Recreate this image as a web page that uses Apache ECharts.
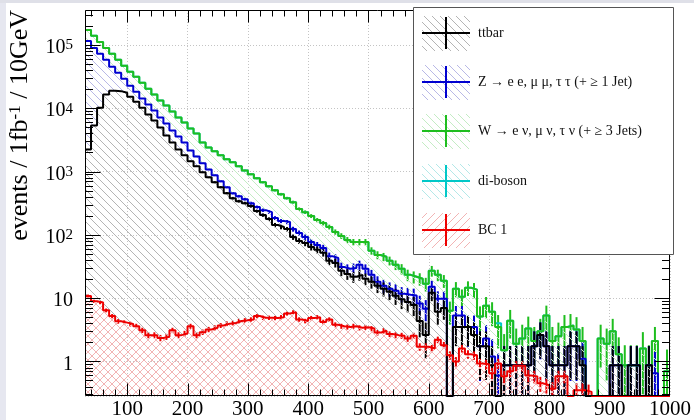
<!DOCTYPE html>
<html><head><meta charset="utf-8">
<script src="https://cdn.jsdelivr.net/npm/echarts@6/dist/echarts.min.js"></script>
<style>html,body{margin:0;padding:0;background:#fff}#c{width:694px;height:420px}</style>
</head><body><div id="c"></div>
<script>
// ---------------- data ----------------
const binLow = [30,40,50,60,70,80,90,100,110,120,130,140,150,160,170,180,190,200,210,220,230,240,250,260,270,280,290,300,310,320,330,340,350,360,370,380,390,400,410,420,430,440,450,460,470,480,490,500,510,520,530,540,550,560,570,580,590,600,610,620,630,640,650,660,670,680,690,700,710,720,730,740,750,760,770,780,790,800,810,820,830,840,850,860,870,880,890,900,910,920,930,940,950,960,970,980,990];
const binWidth = 10;

// stacked totals as drawn: ttbar, ttbar+Z, ttbar+Z+W
const ttbar = [2230,5330,10200,16400,18900,18600,17600,15200,12700,10200,
 7930,6380,4950,3710,2880,2230,1800,1450,1210,971,
 811,677,565,454,379,340,316,284,237,205,
 177,143,133,123,92,80,74,64,58,52,
 39,36,27,24,21.7,23.3,20.2,18.1,15.7,14.1,
 12.6,10.9,9.6,8.7,7.8,4.35,2.61,12.2,6.1,7.0,
 0,3.48,3.48,3.48,2.61,1.74,1.74,0.87,0,0.87,
 0.87,0.87,0.87,0.87,1.74,2.61,1.74,0.87,0.87,0.87,
 1.74,1.74,0.87,0,0,0,0,0.87,0.87,0,
 0.87,0.87,0,0.87,0,0,0];
const ttbarErr = [44,68,94,119,128,127,124,115,105,94,
 83,75,66,57,50,44,40,36,32,29,
 27,24,22,20,18,17,17,16,14,13,
 12,11,11,10,9,8.3,8,7.5,7.1,6.7,
 5.8,5.6,4.8,4.6,4.3,4.5,4.2,4.0,3.7,3.5,
 3.3,3.1,2.9,2.75,2.6,1.95,1.5,3.26,2.3,2.46,
 0,1.74,1.74,1.74,1.5,1.23,1.23,0.87,0,0.87,
 0.87,0.87,0.87,0.87,1.23,1.5,1.23,0.87,0.87,0.87,
 1.23,1.23,0.87,0,0,0,0,0.87,0.87,0,
 0.87,0.87,0,0.87,0,0,0];

const zStack = [115600,89700,72200,58100,45100,36300,29200,22700,18200,14200,
 11400,9170,7120,5730,4450,3580,2880,2150,1730,1350,
 1080,872,701,565,454,408,366,316,274,245,
 228,184,165,159,123,107,92,77,69,62,
 46,43,31,29,30,33.5,29,23.3,18.1,15.7,
 14.1,13.1,11.7,11.3,11,8.2,6.8,15.1,9.8,9.8,
 0,5.3,5.3,3.5,3.5,1.74,2.3,1.2,0.6,0.87,
 0.87,0.87,0.87,0.87,1.74,2.61,1.74,0.87,0.87,0.87,
 1.74,1.74,1.1,0,0,0,0,0.87,0.87,0,
 0.87,0.87,0,0.87,0.65,0,0];
const zStackErr = [322,284,255,229,201,181,162,143,128,113,
 101,91,80,72,63,57,51,44,39,35,
 31,28,25,23,20,19,18,17,16,15,
 14,13,12,12,11,10,9,8.3,7.9,7.5,
 6.4,6.2,5.3,5.1,5.2,5.5,5.1,4.6,4.0,3.8,
 3.6,3.4,3.2,3.2,3.1,2.7,2.5,3.7,3.0,3.0,
 0,2.2,2.2,1.8,1.8,1.25,1.44,1.04,0.73,0.88,
 0.88,0.88,0.88,0.88,1.25,1.53,1.25,0.88,0.88,0.88,
 1.25,1.25,1.0,0,0,0,0,0.88,0.88,0,
 0.88,0.88,0,0.88,0.76,0,0];

const wStack = [172000,139000,111000,89700,72200,58100,46800,37600,31400,25300,
 20300,16400,13200,11000,8840,7120,5940,4780,3990,2880,
 2400,2080,1800,1560,1400,1210,1040,904,782,677,
 585,506,438,379,328,255,228,198,171,153,
 133,111,96,83,77,77,77,56,48,45,
 39,33.5,29,23.3,21.7,20.2,16.8,27,23.3,18.8,
 6.3,14.1,10.5,14.6,13.6,5.1,7.6,6.1,3.5,1.5,
 4.4,1.9,2.3,3.3,2.1,3.0,5.3,2.1,2.5,3.5,
 3.7,3.2,2.1,0,0,2.3,1.9,3.0,1.3,0.87,
 0.87,0.87,1.6,0.87,2.1,0,0.7];
const wStackErr = [415,373,333,300,269,241,216,194,177,159,
 142,128,115,105,94,84,77,69,63,54,
 49,46,42,39,37,35,32,30,28,26,
 24,22,21,19,18,16,15,14,13,12.4,
 11.5,10.5,9.8,9.1,8.8,8.8,8.8,7.5,6.9,6.7,
 6.2,5.8,5.4,4.8,4.7,4.5,4.1,5.2,4.8,4.3,
 2.5,3.8,3.2,3.8,3.7,2.3,2.8,2.5,1.9,1.2,
 2.1,1.4,1.5,1.8,1.4,1.7,2.3,1.4,1.6,1.9,
 1.9,1.8,1.4,0,0,1.5,1.4,1.7,1.1,0.93,
 0.93,0.93,1.3,0.93,1.4,0,0.84];

// di-boson contribution added on top of the stack
const diboson = [0,0,0,0,0,0,0,0,0,0, 0,0,0,0,0,0,0,0,0,0, 0,0,0,0,0,0,0,0,0,0,
 0,0,0,0,0,0,0,0,0,0, 0,0,0,0,0,0,0,0,0,0, 0,0,0,0,0,0,0,0,0,0,
 0,0,0,0,0,0,0,0,0.5,0, 0,0,0,0,0,0,0,0,0,0, 0,0,0,0,0,0,0,0,0,0, 0,0,0,0,0,0,0];

const bc1 = [10.8,8.9,8.5,6.4,5.2,4.3,4.1,3.9,3.6,3.1,
 2.6,2.6,2.35,2.45,3.1,2.6,2.75,3.6,2.6,2.9,
 3.2,3.4,3.7,3.95,4.05,4.35,4.45,4.6,5.2,4.9,
 4.9,4.85,5.0,5.7,6.0,4.6,4.35,4.85,5.0,4.2,
 4.6,3.8,3.6,3.5,3.6,3.4,3.45,3.3,2.85,3.05,
 2.7,2.6,2.55,2.3,2.55,1.7,1.7,1.6,2.2,1.8,
 1.25,1.0,1.6,1.3,1.25,0.93,0.9,0.65,0.93,0.58,
 0.7,0.85,0.85,0.6,0.58,0.45,0.42,0.37,0.58,0.58,
 0,0.35,0.35,0.33,0,0,0,0,0,0,
 0,0,0,0,0,0,0];
const bc1Err = [0.57,0.52,0.5,0.44,0.4,0.36,0.35,0.34,0.33,0.3,
 0.28,0.28,0.27,0.27,0.3,0.28,0.29,0.33,0.28,0.29,
 0.31,0.32,0.33,0.34,0.35,0.36,0.37,0.37,0.39,0.38,
 0.38,0.38,0.39,0.41,0.42,0.37,0.36,0.38,0.39,0.35,
 0.37,0.34,0.33,0.32,0.33,0.32,0.32,0.31,0.29,0.3,
 0.28,0.28,0.28,0.26,0.28,0.23,0.23,0.22,0.26,0.23,
 0.19,0.17,0.22,0.2,0.19,0.17,0.16,0.14,0.17,0.13,
 0.14,0.16,0.16,0.13,0.13,0.12,0.11,0.1,0.13,0.13,
 0,0.1,0.1,0.1,0,0,0,0,0,0,
 0,0,0,0,0,0,0];

const legendLabels = ['ttbar', 'Z \u2192 e e, \u03bc \u03bc, \u03c4 \u03c4 (+ \u2265 1 Jet)', 'W \u2192 e \u03bd, \u03bc \u03bd, \u03c4 \u03bd (+ \u2265 3 Jets)', 'di-boson', 'BC 1'];
const yTitle = 'events / 1fb{s|-1} / 10GeV';
const xLabelValues = [100,200,300,400,500,600,700,800,900,1000];
const yLabelValues = [1,10,100,1000,10000,100000];
const xMajorTicks = [100,200,300,400,500,600,700,800,900];
const xMinorTicks = [40,60,80,120,140,160,180,220,240,260,280,320,340,360,380,420,440,460,480,520,540,560,580,620,640,660,680,720,740,760,780,820,840,860,880,920,940,960,980];
const yMajorTicks = [1,10,100,1000,10000,100000];
const yMinorTicks = [0.3,0.4,0.5,0.6,0.7,0.8,0.9,2,3,4,5,6,7,8,9,20,30,40,50,60,70,80,90,200,300,400,500,600,700,800,900,2000,3000,4000,5000,6000,7000,8000,9000,20000,30000,40000,50000,60000,70000,80000,90000,200000,300000];

const xMin = 30, xMax = 1000, yMin = 0.284, yMax = 3.56e5;

// ---------------- styles ----------------
const FONT = 'Liberation Serif';
const C = { black:'#000000', blue:'#0000d0', green:'#1ebe1e', cyan:'#00c8c8', red:'#ee0000' };
const HS = 8; // hatch spacing
function makeHatch(color, dirs) {
  const s = HS;
  const c = document.createElement('canvas');
  c.width = s; c.height = s;
  const g = c.getContext('2d');
  g.strokeStyle = color; g.lineWidth = 1;
  g.beginPath();
  for (const o of [-s, 0, s]) {
    if (dirs.indexOf('\\') >= 0) { g.moveTo(o, 0); g.lineTo(o + s, s); }
    if (dirs.indexOf('/') >= 0) { g.moveTo(o, s); g.lineTo(o + s, 0); }
  }
  g.stroke();
  return { image: c, repeat: 'repeat' };
}
// hatch for legend boxes as plain clipped line segments
function hatchLines(color, dirs, x0, y0, w, h, z) {
  const out = [];
  const add = (x1, y1, x2, y2) => out.push({ type: 'line', z: z, silent: true, shape: { x1, y1, x2, y2 }, style: { stroke: color, lineWidth: 1 } });
  for (let c = Math.floor((x0 - y0 - h) / HS) * HS; c <= x0 + w - y0; c += HS) {
    if (dirs.indexOf('\\') >= 0) { // x - y = c
      const xa = Math.max(x0, y0 + c), xb = Math.min(x0 + w, y0 + h + c);
      if (xb > xa) add(xa, xa - c, xb, xb - c);
    }
  }
  for (let c = Math.floor((x0 + y0) / HS) * HS; c <= x0 + w + y0 + h + HS; c += HS) {
    if (dirs.indexOf('/') >= 0) { // x + y = c
      const xa = Math.max(x0, c - (y0 + h)), xb = Math.min(x0 + w, c - y0);
      if (xb > xa) add(xa, c - xa, xb, c - xb);
    }
  }
  return out;
}
const HC = { black: '#b4b4b4', blue: '#b8b8e6', green: '#c4ecc4', cyan: '#b4e8e8', red: '#f2b4b4' };
const H = {
  black: makeHatch(HC.black, '\\'),
  blue: makeHatch(HC.blue, '\\'),
  green: makeHatch(HC.green, '\\'),
  cyan: makeHatch(HC.cyan, '\\'),
  red: makeHatch(HC.red, '\\/')
};

function stepData(vals) {
  const d = vals.map((v, i) => [binLow[i], v > yMin ? v : yMin]);
  const last = vals[vals.length - 1];
  d.push([xMax, last > yMin ? last : yMin]);
  return d;
}
function histSeries(vals, color, hatch) {
  return { type: 'line', step: 'end', data: stepData(vals), symbol: 'none', clip: true, silent: true,
    animation: false, lineStyle: { color: color, width: 2 },
    areaStyle: { color: hatch, opacity: 1, origin: 'start' } };
}
function errSeries(vals, errs, color) {
  const data = [];
  vals.forEach((v, i) => {
    if (v > 0 && errs[i] > 0) data.push([binLow[i] + binWidth / 2, Math.max(v - errs[i], yMin), v + errs[i]]);
  });
  return { type: 'custom', clip: true, silent: true, animation: false, data: data,
    encode: { x: 0, y: [1, 2] },
    renderItem: (p, api) => {
      const a = api.coord([api.value(0), api.value(1)]);
      const b = api.coord([api.value(0), api.value(2)]);
      return { type: 'line', shape: { x1: a[0], y1: a[1], x2: b[0], y2: b[1] },
        style: { stroke: color, lineWidth: 2 } };
    } };
}
const dibosonTop = wStack.map((v, i) => v + diboson[i]);

const frameSeries = {
  type: 'custom', silent: true, animation: false, clip: false, z: 20,
  data: [[500, 1]], encode: { x: 0, y: 1 },
  renderItem: (p, api) => {
    const ch = [];
    const L = (x1, y1, x2, y2) => ch.push({ type: 'line', shape: { x1, y1, x2, y2 }, style: { stroke: '#000', lineWidth: 1 } });
    const yT = Math.round(api.coord([xMin, yMax])[1]) + 0.5;
    const yB = Math.round(api.coord([xMin, yMin])[1]) - 0.5;
    const xL = Math.round(api.coord([xMin, 1])[0]) + 0.5;
    const xR = Math.round(api.coord([xMax, 1])[0]) - 0.5;
    L(xL, yT, xR, yT); L(xL, yB, xR, yB); L(xL, yT, xL, yB); L(xR, yT, xR, yB);
    xMajorTicks.forEach(v => { const x = Math.round(api.coord([v, 1])[0]) + 0.5; L(x, yB, x, yB - 12); L(x, yT, x, yT + 12); });
    xMinorTicks.forEach(v => { const x = Math.round(api.coord([v, 1])[0]) + 0.5; L(x, yB, x, yB - 6); L(x, yT, x, yT + 6); });
    yMajorTicks.forEach(v => { const y = Math.round(api.coord([xMin, v])[1]) + 0.5; L(xL, y, xL + 15, y); L(xR, y, xR - 15, y); });
    yMinorTicks.forEach(v => { const y = Math.round(api.coord([xMin, v])[1]) + 0.5; L(xL, y, xL + 7.5, y); L(xR, y, xR - 7.5, y); });
    return { type: 'group', children: ch };
  }
};

// legend graphic (every element carries its own z so it sits above the plot)
const LZ = 100;
const legendColors = [C.black, C.blue, C.green, C.cyan, C.red];
const legendHC = [HC.black, HC.blue, HC.green, HC.cyan, HC.red];
const legendDirs = ['\\', '\\', '\\', '\\', '/'];
const legendEls = [{ type: 'rect', z: LZ, silent: true, shape: { x: 413.5, y: 7.5, width: 260, height: 247 },
  style: { fill: '#fff', stroke: '#555', lineWidth: 1 } }];
legendLabels.forEach((t, k) => {
  const cy = Math.round(32.5 + 49.4 * k);
  hatchLines(legendHC[k], legendDirs[k], 422, cy - 17, 48, 35, LZ + 1).forEach(e => legendEls.push(e));
  legendEls.push({ type: 'line', z: LZ + 2, silent: true, shape: { x1: 422, y1: cy, x2: 470, y2: cy }, style: { stroke: legendColors[k], lineWidth: 2 } });
  legendEls.push({ type: 'line', z: LZ + 2, silent: true, shape: { x1: 446, y1: cy - 16, x2: 446, y2: cy + 16 }, style: { stroke: legendColors[k], lineWidth: 2 } });
  legendEls.push({ type: 'text', z: LZ + 2, silent: true, x: 478, y: cy, style: { text: t, fill: '#111', font: '14px "' + FONT + '"', verticalAlign: 'middle', align: 'left' } });
});

const chart = echarts.init(document.getElementById('c'), null, { renderer: 'canvas', devicePixelRatio: 1 });
chart.setOption({
  animation: false,
  backgroundColor: '#fff',
  grid: { left: 85, right: 24, top: 10, bottom: 23, containLabel: false },
  xAxis: { type: 'value', min: xMin, max: xMax, splitNumber: 10,
    axisLine: { show: false }, axisTick: { show: false },
    splitLine: { show: true, lineStyle: { color: '#c4c4c4', width: 1, type: [1, 2] } },
    axisLabel: { margin: 3, fontSize: 21, fontFamily: FONT, color: '#000',
      formatter: v => xLabelValues.indexOf(Math.round(v)) >= 0 && Math.abs(v - Math.round(v)) < 1e-6 ? String(Math.round(v)) : '' } },
  yAxis: { type: 'log', logBase: 10, min: yMin, max: yMax,
    axisLine: { show: false }, axisTick: { show: false },
    splitLine: { show: true, lineStyle: { color: '#c4c4c4', width: 1, type: [1, 2] } },
    axisLabel: { margin: 12, color: '#000', padding: [6, 0, 0, 0],
      formatter: v => {
        const lg = Math.log10(v), e = Math.round(lg);
        if (Math.abs(lg - e) > 1e-3 || yLabelValues.indexOf(Math.pow(10, e)) < 0) return '';
        if (e === 0) return '{b|1}';
        if (e === 1) return '{b|10}';
        return '{b|10}{s|' + e + '}';
      },
      rich: { b: { fontSize: 20, lineHeight: 20, fontFamily: FONT, color: '#000' },
              s: { fontSize: 15, lineHeight: 12, fontFamily: FONT, color: '#000', verticalAlign: 'top' } } } },
  graphic: [
    { type: 'rect', shape: { x: 0, y: 0, width: 6, height: 420 }, style: { fill: '#e6e7f0' }, silent: true },
    { type: 'rect', shape: { x: 0, y: 0, width: 694, height: 3 }, style: { fill: '#dfe0e8' }, silent: true },
    { type: 'text', x: 20, y: 10, rotation: Math.PI / 2, silent: true,
      style: { text: yTitle, fill: '#000', font: '26px "' + FONT + '"', align: 'right', verticalAlign: 'middle',
        rich: { s: { fontSize: 17, lineHeight: 14, fontFamily: FONT, verticalAlign: 'top' } } } }
  ].concat(legendEls),
  series: [
    histSeries(dibosonTop, C.cyan, H.cyan),
    histSeries(wStack, C.green, H.green),
    errSeries(wStack, wStackErr, C.green),
    histSeries(zStack, C.blue, H.blue),
    errSeries(zStack, zStackErr, C.blue),
    histSeries(ttbar, C.black, H.black),
    errSeries(ttbar, ttbarErr, C.black),
    histSeries(bc1, C.red, H.red),
    errSeries(bc1, bc1Err, C.red),
    frameSeries
  ]
});
</script></body></html>
